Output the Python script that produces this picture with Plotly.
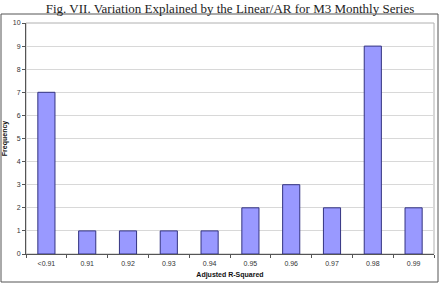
import plotly.graph_objects as go

categories = ["<0.91", "0.91", "0.92", "0.93", "0.94", "0.95", "0.96", "0.97", "0.98", "0.99"]
frequency = [7, 1, 1, 1, 1, 2, 3, 2, 9, 2]

fig = go.Figure(go.Bar(
    x=categories, y=frequency,
    marker=dict(color="#9999FF", line=dict(color="#333380", width=1)),
))

L, R, T, B = 26, 6, 23, 30
W, H = 440, 284
pw, ph = W - L - R, H - T - B

fig.update_layout(
    width=W, height=H,
    margin=dict(l=L, r=R, t=T, b=B, autoexpand=False),
    paper_bgcolor="white", plot_bgcolor="white",
    bargap=0.58,
    showlegend=False,
    title=dict(text="Fig. VII. Variation Explained by the Linear/AR for M3 Monthly Series",
               font=dict(family="Liberation Serif", size=13, color="#222"),
               x=0.5, xref="paper", xanchor="center", y=1 - 8 / H, yanchor="middle"),
    xaxis=dict(
        type="category", automargin=False,
        showline=True, linecolor="#555", linewidth=1,
        mirror=False,
        ticks="outside", ticklen=3, tickcolor="#555", tickson="boundaries",
        ticklabelstandoff=3,
        tickfont=dict(family="Liberation Sans", size=7, color="#333"),
        title=dict(text="Adjusted R-Squared", standoff=5,
                   font=dict(family="Liberation Sans", size=7, color="#111", weight="bold")),
    ),
    yaxis=dict(
        range=[0, 10], dtick=1, automargin=False,
        showline=True, linecolor="#555", linewidth=1,
        ticks="outside", ticklen=3, tickcolor="#555",
        showgrid=True, gridcolor="#d8d8d8", gridwidth=1,
        zeroline=False,
        tickfont=dict(family="Liberation Sans", size=7, color="#333"),
        title=dict(text="Frequency", standoff=4,
                   font=dict(family="Liberation Sans", size=7, color="#111", weight="bold")),
    ),
    shapes=[
        dict(type="rect", xref="paper", yref="paper", x0=0, x1=1, y0=0, y1=1,
             line=dict(color="#b0b0b0", width=1), layer="below"),
        dict(type="rect", xref="paper", yref="paper",
             x0=(1 - L) / pw, x1=(438 - L) / pw,
             y0=(ph + T - 282) / ph, y1=(ph + T - 14) / ph,
             line=dict(color="#555", width=1)),
    ],
)

fig.write_html("out.html")
